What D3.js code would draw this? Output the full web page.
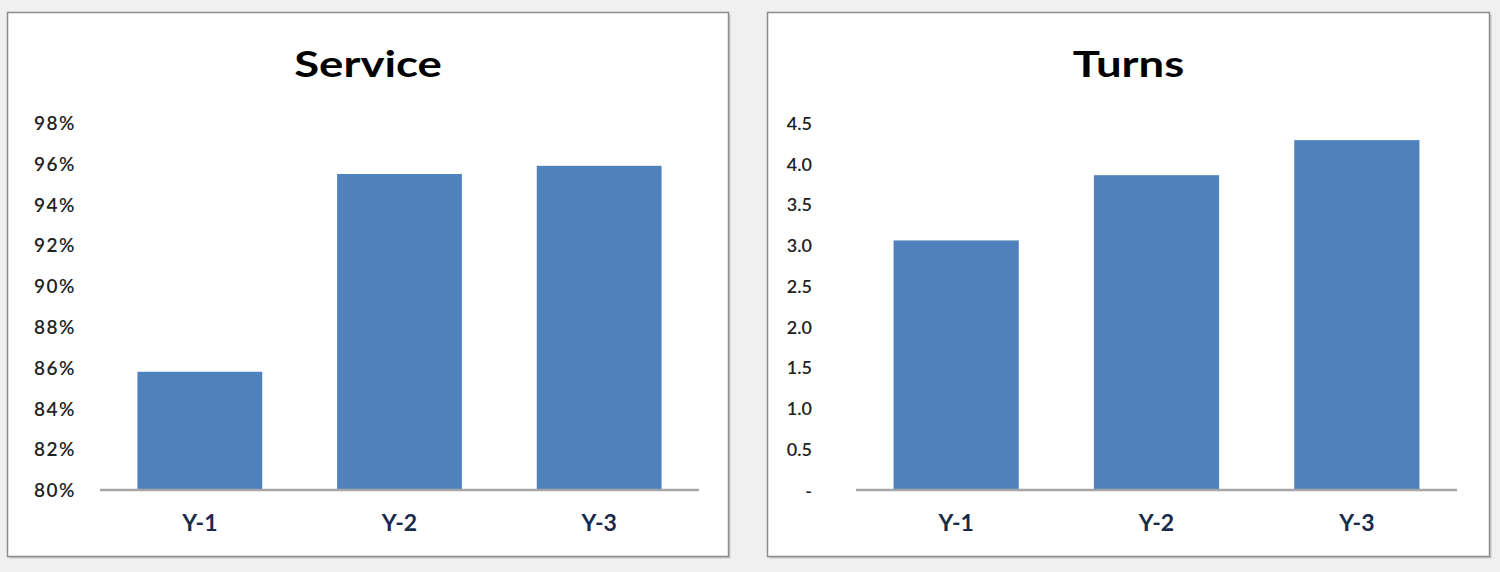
<!DOCTYPE html>
<html><head><meta charset="utf-8">
<script src="https://cdn.jsdelivr.net/npm/d3@7"></script>
<style>
html,body{margin:0;padding:0;background:#f0f0f0;}
svg{display:block;}
</style></head>
<body>
<svg id="c" width="1500" height="572"></svg>
<script>
const categories = ["Y-1", "Y-2", "Y-3"];
const serviceValues = [0.858, 0.955, 0.959];
const serviceTicks = [0.80, 0.82, 0.84, 0.86, 0.88, 0.90, 0.92, 0.94, 0.96, 0.98];
const turnsValues = [3.06, 3.86, 4.29];
const turnsTicks = [0, 0.5, 1.0, 1.5, 2.0, 2.5, 3.0, 3.5, 4.0, 4.5];

const svg = d3.select("#c");
const font = "Lato, 'Open Sans', sans-serif";

function panel(opt) {
  const g = svg.append("g");
  g.append("rect").attr("x", opt.px + 2).attr("y", opt.py + 2).attr("width", opt.pw).attr("height", opt.ph).attr("fill", "#c8c8c8");
  g.append("rect").attr("x", opt.px).attr("y", opt.py).attr("width", opt.pw).attr("height", opt.ph)
    .attr("fill", "#ffffff").attr("stroke", "#8c8c8c").attr("stroke-width", 1.5);

  g.append("g").attr("transform", `translate(${opt.px + opt.pw / 2},77) scale(1.23,1)`)
    .append("text").attr("x", 0).attr("y", 0)
    .attr("text-anchor", "middle").attr("font-family", font).attr("font-weight", "bold")
    .attr("font-size", 37).attr("fill", "#000").text(opt.title);

  const x = d3.scaleBand().domain(categories).range([opt.x0, opt.x1]).paddingInner(0.375).paddingOuter(0.1875);
  const top = opt.ticks[opt.ticks.length - 1];
  const y = d3.scaleLinear().domain([opt.domain[0], top]).range([490, 123]);

  g.selectAll(".bar").data(opt.values).join("rect")
    .attr("x", (d, i) => x(categories[i]))
    .attr("width", x.bandwidth())
    .attr("y", d => y(d))
    .attr("height", d => y(opt.domain[0]) - y(d))
    .attr("fill", "#4f81bd");

  const ya = g.append("g").attr("transform", `translate(${opt.labelX},0)`)
    .call(d3.axisLeft(y).tickValues(opt.ticks).tickFormat(opt.fmt).tickSize(0).tickPadding(0));
  ya.select(".domain").remove();
  ya.selectAll("text").attr("font-family", font).attr("font-size", opt.tickSize).attr("fill", "#222")
    .attr("font-weight", 600).attr("letter-spacing", opt.tickSpacing).attr("dy", "0.35em");

  const xa = g.append("g").attr("transform", "translate(0,490)")
    .call(d3.axisBottom(x).tickSize(0).tickPadding(25));
  xa.select(".domain").attr("stroke", "#a6a6a6").attr("stroke-width", 2.5)
    .attr("d", `M${opt.x0},0H${opt.x1}`);
  xa.selectAll("text").attr("font-family", font).attr("font-size", 23).attr("font-weight", "bold")
    .attr("fill", "#1a2a4a").attr("dy", "0.71em");
}

panel({px: 7.5, py: 12.5, pw: 721, ph: 544, title: "Service", x0: 100, x1: 699,
  domain: [0.80, 0.98], ticks: serviceTicks, values: serviceValues,
  fmt: d3.format(".0%"), labelX: 76, tickSize: 19, tickSpacing: "1.5px"});

panel({px: 767.5, py: 12.5, pw: 722, ph: 544, title: "Turns", x0: 856, x1: 1457,
  domain: [0, 4.5], ticks: turnsTicks, values: turnsValues,
  fmt: d => d === 0 ? "-" : d3.format(".1f")(d), labelX: 812, tickSize: 18, tickSpacing: "0px"});
</script>
</body></html>
